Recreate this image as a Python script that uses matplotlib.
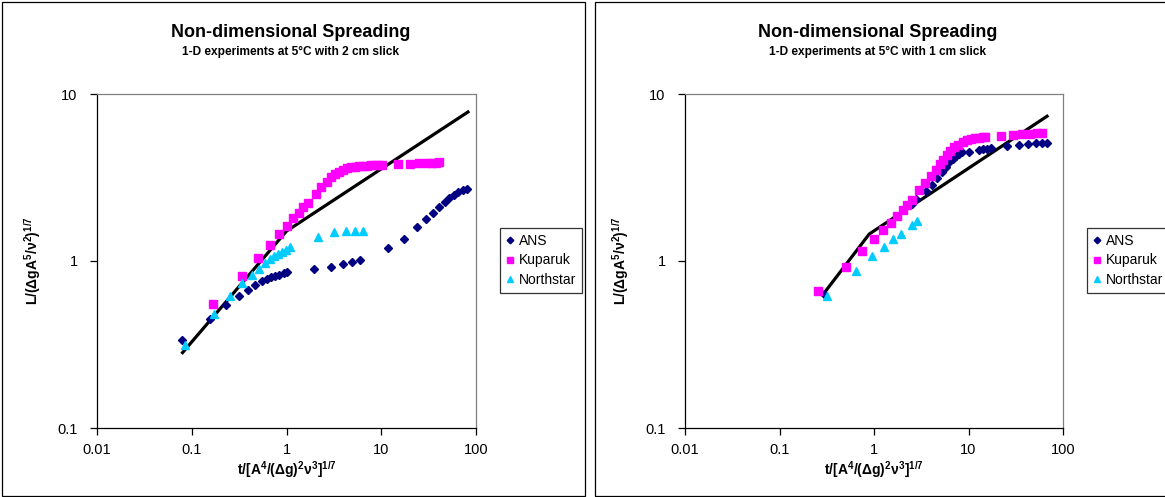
#!/usr/bin/env python3

import matplotlib
matplotlib.use("Agg")
import matplotlib.pyplot as plt
from matplotlib.patches import Rectangle
from matplotlib.ticker import FixedLocator, NullLocator


# 2 cm slick, 5 C
ANS_2CM_T = [0.079, 0.157, 0.232, 0.315, 0.397, 0.470, 0.552, 0.63, 0.694, 0.765,
             0.843, 0.93, 1.0, 1.96, 2.92, 3.91, 4.9, 5.91, 11.8, 17.5,
             23.7, 29.5, 35.2, 41.1, 47.1, 52.4, 58.6, 65.0, 72.2, 80.1]
ANS_2CM_L = [0.336, 0.451, 0.547, 0.621, 0.675, 0.714, 0.754, 0.778, 0.797, 0.815,
             0.830, 0.845, 0.857, 0.898, 0.918, 0.953, 0.989, 1.017, 1.19, 1.36,
             1.59, 1.78, 1.95, 2.11, 2.27, 2.39, 2.49, 2.58, 2.65, 2.69]

KUP_2CM_T = [0.168, 0.337, 0.506, 0.671, 0.843, 1.007, 1.175, 1.34, 1.51, 1.68,
             2.03, 2.32, 2.65, 2.96, 3.26, 3.59, 3.96, 4.37, 4.82, 5.3,
             5.85, 6.45, 7.1, 7.83, 8.63, 9.5, 10.3, 15.1, 20.1, 25.2,
             30.1, 34.1, 37.6, 41.1]
KUP_2CM_L = [0.551, 0.815, 1.04, 1.25, 1.45, 1.63, 1.80, 1.94, 2.10, 2.24,
             2.53, 2.77, 2.99, 3.18, 3.33, 3.43, 3.53, 3.60, 3.65, 3.68,
             3.72, 3.73, 3.73, 3.75, 3.77, 3.77, 3.77, 3.80, 3.82, 3.85,
             3.87, 3.88, 3.88, 3.90]

NS_2CM_T = [0.0856, 0.172, 0.254, 0.343, 0.43, 0.513, 0.594, 0.671, 0.746, 0.823,
            0.907, 0.99, 1.08, 2.14, 3.21, 4.27, 5.3, 6.45]
NS_2CM_L = [0.315, 0.48, 0.621, 0.74, 0.827, 0.898, 0.97, 1.035, 1.07, 1.10,
            1.135, 1.17, 1.22, 1.39, 1.49, 1.52, 1.52, 1.52]

FIT_2CM_T = [0.078, 1.0, 85.0]
FIT_2CM_L = [0.278, 1.51, 7.9]

# 1 cm slick, 5 C
ANS_1CM_T = [0.296, 2.5, 2.78, 3.55, 4.11, 4.68, 5.28, 5.82, 6.26, 6.78,
             7.33, 7.87, 8.6, 10.2, 13.0, 14.3, 15.8, 17.3, 25.8, 34.2,
             42.8, 51.9, 59.8, 68.5]
ANS_1CM_L = [0.636, 2.2, 2.34, 2.64, 2.87, 3.13, 3.39, 3.65, 3.89, 4.10,
             4.27, 4.39, 4.47, 4.51, 4.64, 4.66, 4.71, 4.75, 4.91, 4.98,
             5.02, 5.1, 5.1, 5.1]

KUP_1CM_T = [0.255, 0.506, 0.753, 1.0, 1.25, 1.50, 1.77, 2.01, 2.25, 2.5,
             2.99, 3.46, 3.98, 4.5, 4.99, 5.4, 5.88, 6.42, 7.07, 7.77,
             8.67, 9.55, 10.5, 11.6, 12.8, 14.1, 15.1, 22.0, 29.3, 37.1,
             44.6, 52.5, 60.3]
KUP_1CM_L = [0.657, 0.92, 1.14, 1.36, 1.54, 1.69, 1.87, 2.02, 2.17, 2.32,
             2.65, 2.93, 3.24, 3.50, 3.81, 4.05, 4.29, 4.58, 4.82, 4.98,
             5.17, 5.28, 5.36, 5.43, 5.48, 5.50, 5.53, 5.6, 5.68, 5.74,
             5.8, 5.82, 5.85]

NS_1CM_T = [0.321, 0.645, 0.96, 1.28, 1.6, 1.91, 2.54, 2.87]
NS_1CM_L = [0.615, 0.87, 1.07, 1.21, 1.35, 1.46, 1.64, 1.74]

FIT_1CM_T = [0.296, 0.89, 70.0]
FIT_1CM_L = [0.642, 1.45, 7.45]

X_TICKS = [0.01, 0.1, 1, 10, 100]
X_TICK_LABELS = ["0.01", "0.1", "1", "10", "100"]
Y_TICKS = [0.1, 1, 10]
Y_TICK_LABELS = ["0.1", "1", "10"]

TITLE = "Non-dimensional Spreading"
XLABEL = r"$\mathbf{t/[A^4/(\Delta g)^2\nu^3]^{1/7}}$"
YLABEL = r"$\mathbf{L/(\Delta g A^5/\nu^2)^{1/7}}$"

plt.rcParams["font.family"] = ["Liberation Sans", "DejaVu Sans"]
plt.rcParams["mathtext.fontset"] = "custom"
plt.rcParams["mathtext.rm"] = "Liberation Sans"
plt.rcParams["mathtext.it"] = "Liberation Sans:italic"
plt.rcParams["mathtext.bf"] = "Liberation Sans:bold"


def draw_panel(fig, rect, subtitle, ans, kup, ns, fit):
    ax = fig.add_axes(rect)
    ax.set_xscale("log")
    ax.set_yscale("log")
    ax.set_xlim(0.01, 100)
    ax.set_ylim(0.1, 10)

    ax.plot(fit[0], fit[1], color="black", lw=2.3, zorder=2,
            solid_capstyle="butt")
    ax.plot(ans[0], ans[1], ls="none", marker="D", ms=4.2,
            color="#000080", label="ANS", zorder=3)
    ax.plot(kup[0], kup[1], ls="none", marker="s", ms=5.6,
            color="#FF00FF", label="Kuparuk", zorder=3)
    ax.plot(ns[0], ns[1], ls="none", marker="^", ms=6.0,
            color="#00CCFF", label="Northstar", zorder=3)

    ax.xaxis.set_major_locator(FixedLocator(X_TICKS))
    ax.xaxis.set_minor_locator(NullLocator())
    ax.yaxis.set_major_locator(FixedLocator(Y_TICKS))
    ax.yaxis.set_minor_locator(NullLocator())
    ax.set_xticklabels(X_TICK_LABELS)
    ax.set_yticklabels(Y_TICK_LABELS)
    ax.tick_params(direction="out", length=5, width=0.9, labelsize=10.5,
                   color="black")
    ax.tick_params(axis="x", pad=6)
    ax.tick_params(axis="y", pad=9)

    for side in ("top", "right"):
        ax.spines[side].set_color("#808080")
        ax.spines[side].set_linewidth(0.9)
    for side in ("left", "bottom"):
        ax.spines[side].set_color("black")
        ax.spines[side].set_linewidth(0.9)

    ax.text(0.51, 1.183, TITLE, transform=ax.transAxes, ha="center",
            va="center", fontsize=13, fontweight="bold")
    ax.text(0.51, 1.126, subtitle, transform=ax.transAxes, ha="center",
            va="center", fontsize=8.6, fontweight="bold")

    ax.set_xlabel(XLABEL, fontsize=10, labelpad=1)
    ax.set_ylabel(YLABEL, fontsize=10, labelpad=10)

    leg = ax.legend(loc="upper left", bbox_to_anchor=(1.063, 0.60),
                    borderaxespad=0, fancybox=False, frameon=True,
                    edgecolor="black", fontsize=10, handlelength=0.6,
                    handletextpad=0.3, borderpad=0.45, labelspacing=0.4,
                    markerscale=0.8)
    leg.get_frame().set_linewidth(0.9)
    return ax


fig = plt.figure(figsize=(11.65, 4.97), dpi=100)

# chart frames around each panel
for x0, x1 in ((2, 585), (595, 1175)):
    fig.patches.append(Rectangle((x0 / 1165, 1 / 497), (x1 - x0) / 1165, 494 / 497,
                                 transform=fig.transFigure, fill=False,
                                 edgecolor="black", lw=0.9))

draw_panel(fig, [97 / 1165, 69 / 497, 379 / 1165, 334 / 497],
           "1-D experiments at 5\u00b0C with 2 cm slick",
           (ANS_2CM_T, ANS_2CM_L), (KUP_2CM_T, KUP_2CM_L),
           (NS_2CM_T, NS_2CM_L), (FIT_2CM_T, FIT_2CM_L))
draw_panel(fig, [685 / 1165, 69 / 497, 378 / 1165, 334 / 497],
           "1-D experiments at 5\u00b0C with 1 cm slick",
           (ANS_1CM_T, ANS_1CM_L), (KUP_1CM_T, KUP_1CM_L),
           (NS_1CM_T, NS_1CM_L), (FIT_1CM_T, FIT_1CM_L))

fig.savefig("out.png", dpi=100)
